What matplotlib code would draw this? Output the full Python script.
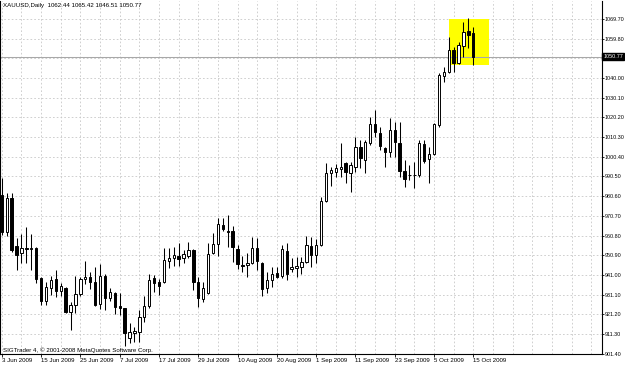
import numpy as np
import pandas as pd
import matplotlib
matplotlib.use("Agg")
import matplotlib.pyplot as plt
from matplotlib import font_manager
from matplotlib.patches import Rectangle

# XAUUSD daily bars, 3 Jun 2009 .. 15 Oct 2009
opens = [981.2, 962.7, 979.5, 955.5, 952.2, 954.6, 954.0, 954.4, 939.6, 927.9,
         934.6, 938.8, 933.1, 934.3, 922.5, 925.9, 931.4, 938.8, 939.8, 937.6,
         926.2, 940.5, 929.6, 932.1, 925.4, 924.2, 909.1, 911.7, 912.5, 920.0,
         925.4, 939.6, 937.3, 937.3, 948.2, 949.6, 950.7, 949.6, 950.5, 953.5,
         937.3, 928.9, 931.8, 951.9, 956.4, 966.1, 962.9, 962.9, 954.0, 945.9,
         945.8, 946.9, 954.7, 947.2, 934.3, 938.5, 942.1, 940.5, 953.2, 943.8,
         944.3, 945.1, 947.7, 955.6, 951.0, 956.1, 978.2, 992.1, 992.6, 994.2,
         997.1, 992.0, 995.4, 1005.4, 998.7, 1007.1, 1016.8, 1012.2, 1004.6, 1002.9,
         1013.8, 1007.4, 993.3, 991.0, 991.2, 991.2, 1006.6, 999.1, 1001.8, 1016.3,
         1041.1, 1042.8, 1054.1, 1047.7, 1056.1, 1063.6, 1062.44]
highs = [989.6, 982.0, 982.0, 959.4, 961.4, 965.0, 961.4, 955.0, 940.0, 937.6,
         940.5, 943.5, 936.8, 935.1, 927.5, 940.5, 939.8, 948.2, 942.3, 944.9,
         946.4, 941.3, 934.3, 932.5, 931.8, 924.6, 916.7, 915.0, 923.4, 930.4,
         941.5, 941.0, 939.0, 954.4, 954.4, 955.2, 956.9, 953.5, 957.7, 954.0,
         940.1, 937.3, 957.2, 962.2, 969.5, 969.5, 971.1, 965.6, 956.1, 950.7,
         951.9, 959.9, 959.4, 947.6, 942.6, 945.1, 945.1, 956.1, 956.9, 949.4,
         949.9, 950.2, 960.6, 960.2, 958.9, 980.3, 997.1, 995.4, 996.6, 1007.1,
         997.9, 997.9, 1010.5, 1008.8, 1008.8, 1020.5, 1023.9, 1015.5, 1005.4, 1019.7,
         1018.0, 1018.0, 998.7, 996.2, 997.9, 1008.8, 1008.8, 1005.4, 1017.2, 1042.3,
         1045.7, 1060.8, 1055.7, 1058.2, 1068.3, 1070.0, 1065.42]
lows = [961.1, 960.6, 952.7, 943.5, 947.2, 946.9, 943.5, 937.1, 925.9, 925.9,
        930.9, 930.1, 930.4, 922.0, 913.3, 922.0, 930.4, 936.4, 933.8, 925.5,
        923.7, 923.4, 927.9, 921.2, 920.9, 905.4, 906.6, 907.4, 907.4, 917.5,
        924.2, 932.6, 930.9, 936.9, 944.6, 945.6, 945.6, 947.2, 949.4, 933.4,
        925.0, 927.5, 931.5, 951.5, 950.7, 963.1, 955.2, 947.7, 944.0, 942.3,
        940.1, 946.5, 943.5, 930.5, 932.0, 935.1, 939.3, 939.3, 938.5, 942.6,
        940.1, 941.5, 947.2, 944.8, 946.9, 955.6, 977.8, 985.7, 990.4, 990.3,
        987.0, 982.8, 992.9, 994.6, 992.0, 1006.3, 1010.5, 1003.8, 995.4, 1000.4,
        1000.4, 990.3, 985.0, 988.7, 984.5, 990.3, 997.1, 987.0, 1001.2, 1015.5,
        1038.1, 1042.3, 1043.2, 1047.0, 1050.7, 1054.9, 1046.51]
closes = [962.7, 979.5, 953.5, 951.0, 954.7, 954.2, 954.4, 938.8, 927.9, 934.8,
          938.5, 933.1, 935.4, 922.5, 925.9, 931.4, 939.0, 940.1, 937.6, 925.9,
          940.5, 929.6, 932.4, 925.0, 924.6, 911.7, 912.2, 912.8, 920.0, 925.4,
          938.5, 936.8, 935.6, 948.5, 949.4, 950.9, 949.0, 951.4, 953.5, 937.3,
          929.3, 934.3, 951.4, 956.4, 966.5, 963.9, 962.5, 955.2, 946.4, 945.6,
          947.0, 954.4, 948.0, 933.8, 938.5, 941.5, 940.1, 953.9, 941.3, 945.1,
          945.5, 947.7, 956.1, 951.0, 956.1, 978.3, 992.1, 993.8, 994.6, 995.4,
          992.5, 996.2, 1005.4, 999.6, 1007.9, 1016.8, 1012.7, 1005.8, 1002.9, 1013.8,
          1007.6, 993.3, 989.2, 991.4, 991.0, 1007.4, 998.4, 1001.8, 1016.7, 1041.5,
          1042.9, 1054.1, 1047.7, 1056.6, 1063.2, 1061.6, 1050.77]

dates = pd.bdate_range("2009-06-03", "2009-10-15")

price_ticks = [901.40, 911.30, 921.20, 931.10, 941.00, 950.90, 960.80, 970.70,
               980.60, 990.50, 1000.40, 1010.30, 1020.20, 1030.10, 1040.00,
               1049.90, 1059.80, 1069.70]
price_labels = ["901.40", "911.30", "921.20", "931.10", "941.00", "950.90",
                "960.80", "970.70", "980.60", "990.50", "1000.40", "1010.30",
                "1020.20", "1030.10", "1040.00", "", "1059.80", "1069.70"]

# highlighted rectangle (bar range, price range)
box_bars = (91.1, 99.1)
box_prices = (1046.6, 1069.6)

title = "XAUUSD,Daily  1062.44 1065.42 1046.51 1050.77"
copyright_txt = "SIGTrader 4, \u00a9 2001-2008 MetaQuotes Software Corp."

# narrow font like the MT4 one if we have it
names = {f.name for f in font_manager.fontManager.ttflist}
if "Liberation Sans Narrow" in names:
    FONT, FS, FSY = "Liberation Sans Narrow", 5.2, 4.7
else:
    FONT, FS, FSY = "Liberation Sans", 4.4, 3.9
plt.rcParams["font.family"] = [FONT, "DejaVu Sans"]

W, H = 625, 365
fig = plt.figure(figsize=(W / 100, H / 100), dpi=100)
fig.patch.set_facecolor("white")
# plot frame in pixels: x 0..601.5, y 1..354 (from top)
ax = fig.add_axes([0 / W, (H - 354) / H, 601.5 / W, 353 / H])

o = np.array(opens)
h = np.array(highs)
l = np.array(lows)
c = np.array(closes)
x = np.arange(len(o))

ax.set_xlim(-0.37, 122.1)
ax.set_ylim(901.25, 1078.7)

# grid
grid_kw = dict(color="#c8c8c8", lw=0.6, linestyle=(0, (2, 2.5)), zorder=0)
for gx in range(0, 124, 4):
    ax.axvline(gx, **grid_kw)
for gy in price_ticks:
    ax.axhline(gy, **grid_kw)

# yellow box
ax.add_patch(Rectangle((box_bars[0], box_prices[0]), box_bars[1] - box_bars[0],
                       box_prices[1] - box_prices[0], facecolor="#ffff00",
                       edgecolor="none", zorder=1))

# bid line
ax.axhline(c[-1], color="#a8a8a8", lw=0.75, zorder=2)

# candles
up = c >= o
ax.vlines(x, l, h, color="black", lw=0.75, zorder=3)
body_lo = np.minimum(o, c)
body_h = np.maximum(np.abs(c - o), 0.12)
ax.bar(x, body_h, bottom=body_lo, width=0.48,
       color=np.where(up, "white", "black"), edgecolor="black",
       linewidth=0.7, zorder=4)

# axes styling
ax.spines["top"].set_visible(False)
for s in ["left", "right", "bottom"]:
    ax.spines[s].set_color("black")
    ax.spines[s].set_linewidth(0.8)

ax.yaxis.tick_right()
ax.set_yticks(price_ticks)
ax.set_yticklabels(price_labels)
ax.tick_params(axis="y", length=1.6, width=0.6, pad=0.6, labelsize=FSY)

tick_idx = list(range(0, len(dates), 8))
ax.set_xticks(tick_idx)
ax.set_xticklabels([f"{dates[i].day} {dates[i]:%b %Y}" for i in tick_idx])
ax.tick_params(axis="x", length=2, width=0.6, pad=1.0, labelsize=FS)
plt.setp(ax.get_xticklabels(), ha="left")

# current price tag on the price scale
ax.text(1.003, c[-1], f"{c[-1]:.2f}", transform=ax.get_yaxis_transform(),
        ha="left", va="center", color="white", fontsize=FSY,
        bbox=dict(facecolor="black", edgecolor="black", pad=0.8), zorder=10,
        clip_on=False)

fig.text(3 / W, 1 - 2.5 / H, title, ha="left", va="top", fontsize=FS)
fig.text(3 / W, (H - 350) / H, copyright_txt, ha="left", va="center", fontsize=FS)

fig.savefig("out.png", dpi=100, facecolor="white")
